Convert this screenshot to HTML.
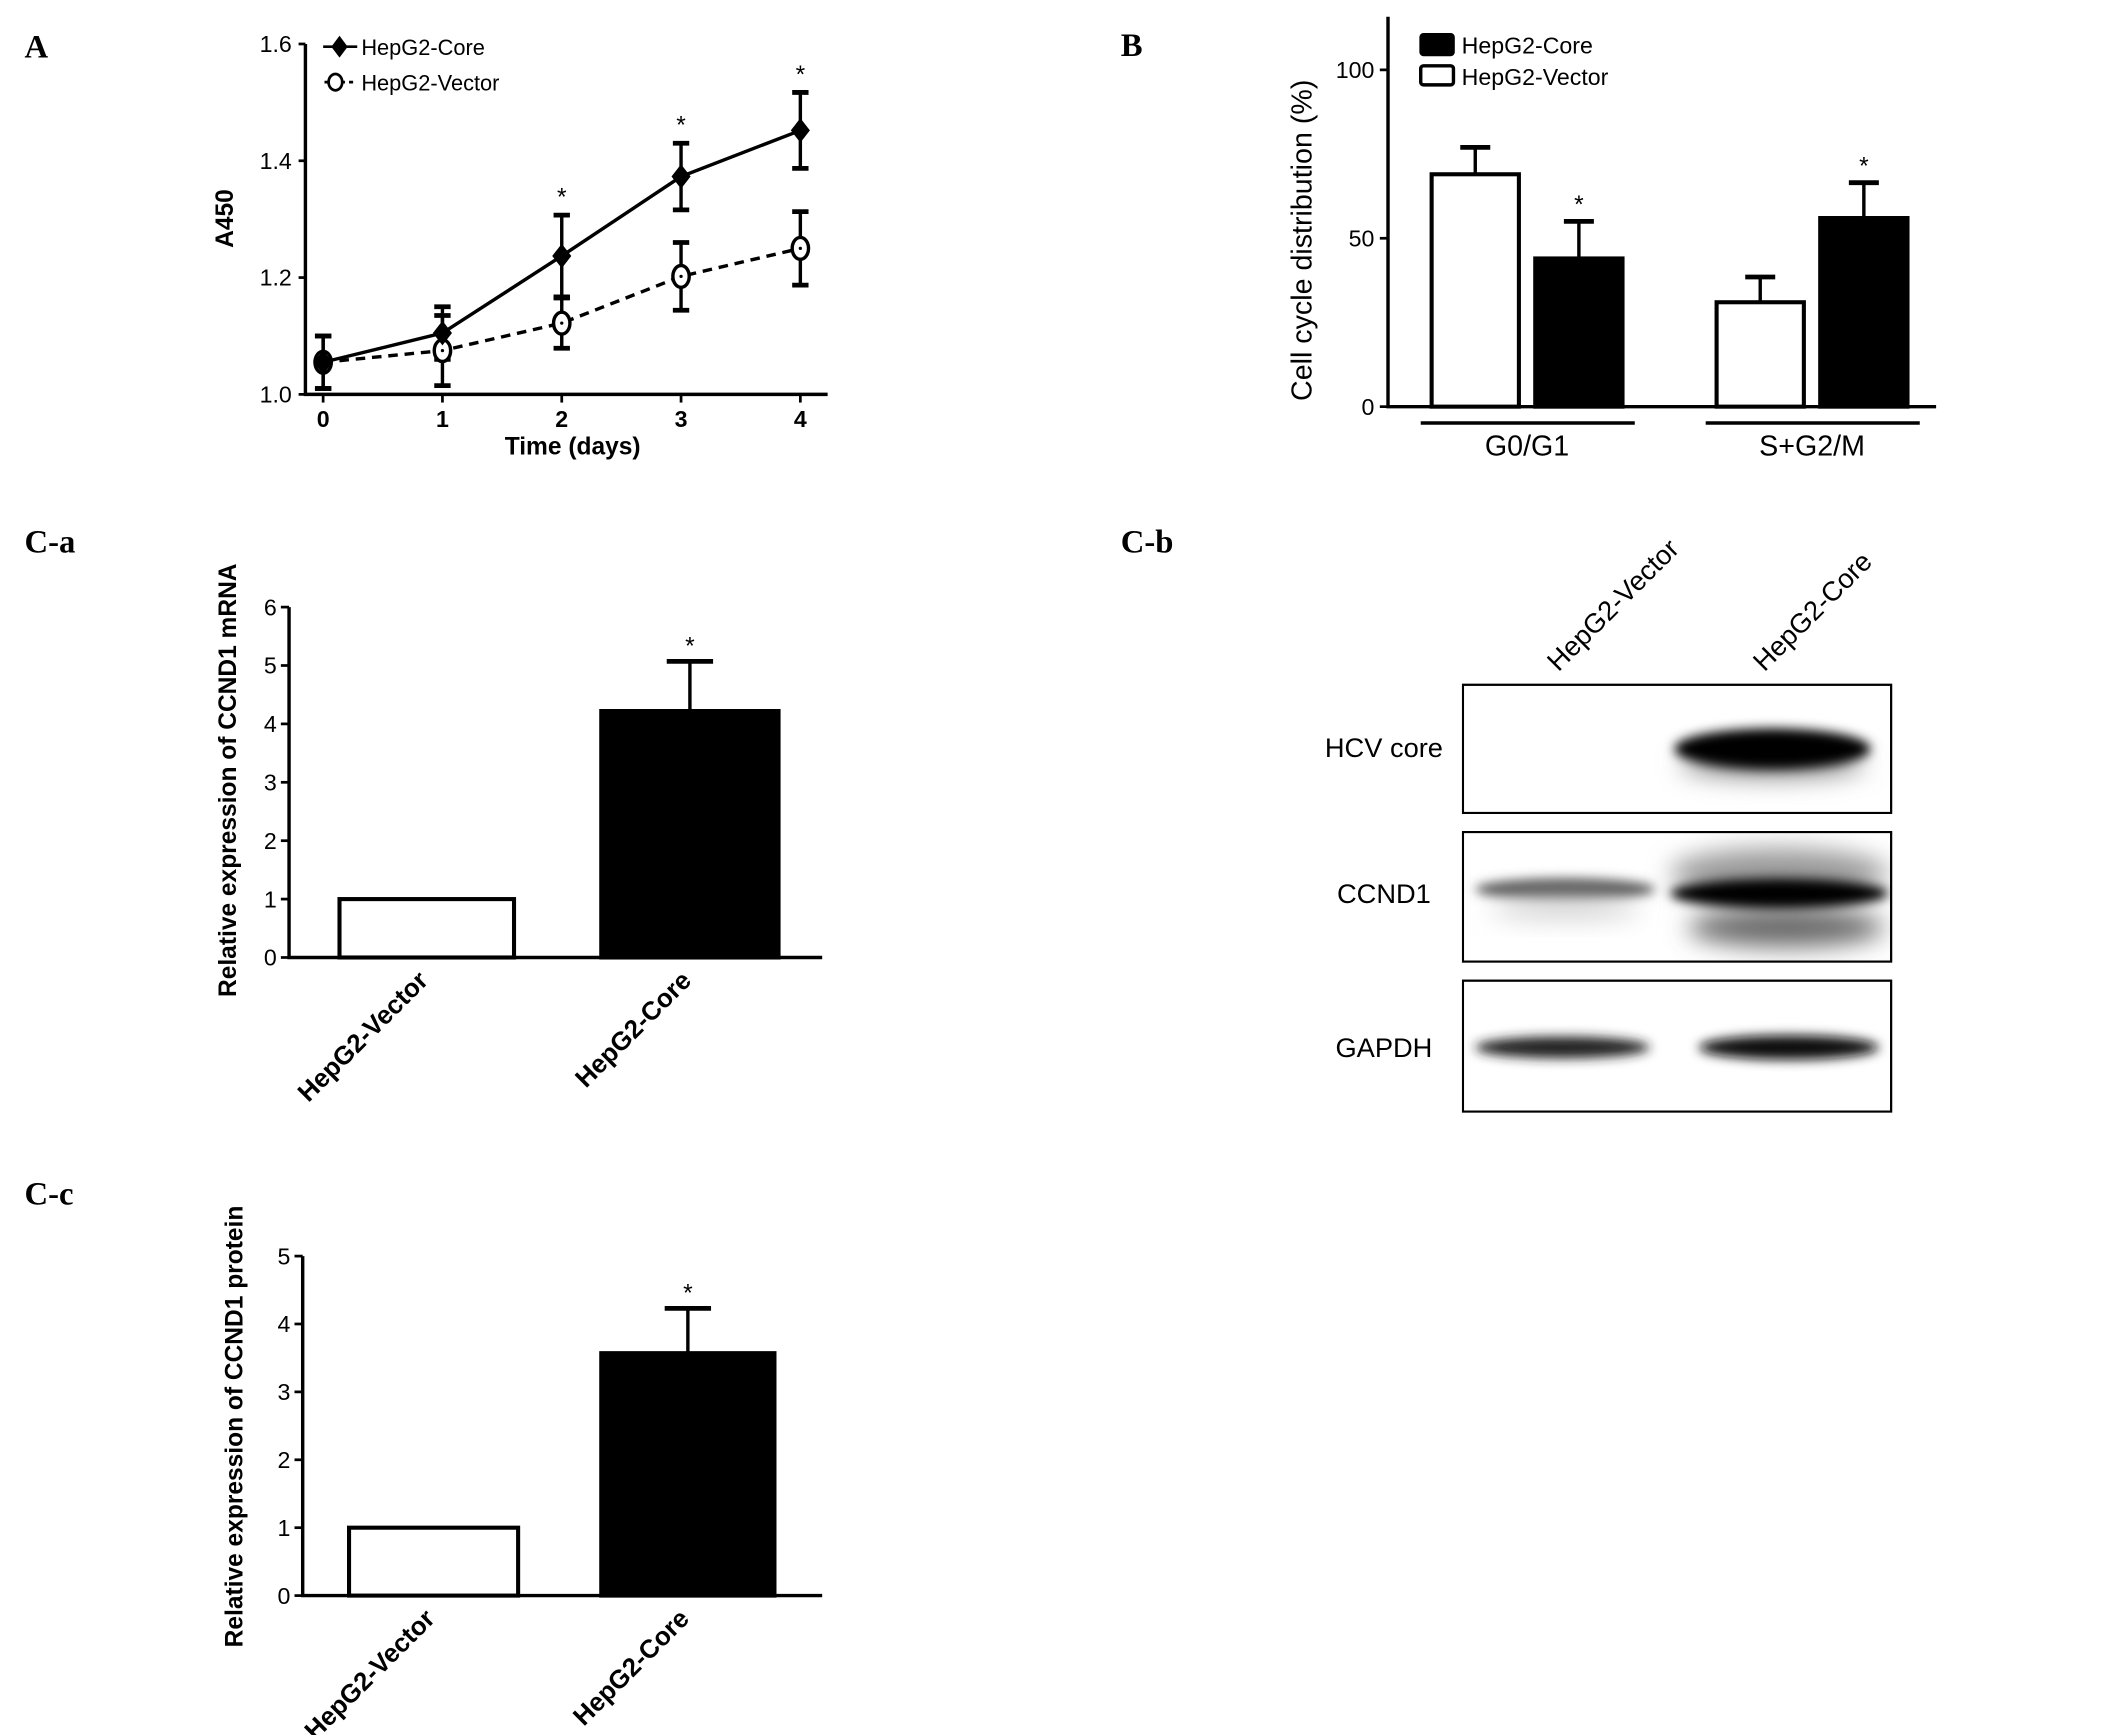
<!DOCTYPE html>
<html><head><meta charset="utf-8"><style>
html,body{margin:0;padding:0;background:#fff;}
svg{display:block;}
text{font-family:"Liberation Sans",sans-serif;fill:#000;}
.lbl{font-family:"Liberation Serif",serif;font-weight:bold;font-size:24px;}
</style></head><body>
<svg id="fig" width="2127" height="1735" viewBox="0 0 1560 1272" xmlns="http://www.w3.org/2000/svg">
<defs>
<filter id="blur4" x="-20%" y="-100%" width="140%" height="300%"><feGaussianBlur stdDeviation="4"/></filter>
<filter id="blur8" x="-20%" y="-100%" width="140%" height="300%"><feGaussianBlur stdDeviation="9"/></filter>
<clipPath id="c1"><rect x="1073" y="502" width="314" height="94"/></clipPath>
<clipPath id="c2"><rect x="1073" y="610" width="314" height="95"/></clipPath>
<clipPath id="c3"><rect x="1073" y="719" width="314" height="96"/></clipPath>
</defs>
<text class="lbl" x="18" y="42">A</text>
<text class="lbl" x="822" y="41">B</text>
<text class="lbl" x="18" y="405">C-a</text>
<text class="lbl" x="822" y="405">C-b</text>
<text class="lbl" x="18" y="883">C-c</text>
<g id="pa"></g><g id="pb"></g><g id="pca"></g><g id="pcb"></g><g id="pcc"></g>
</svg>
<script>
// Panel A data
const days = [0,1,2,3,4];
const coreA = [1.055,1.105,1.237,1.373,1.452];
const coreErr = [0.045,0.045,0.07,0.057,0.065];
const vecA = [1.055,1.075,1.122,1.202,1.25];
const vecErr = [0.045,0.06,0.043,0.058,0.063];
const starA = [false,false,true,true,true];
const ticksA = [1.0,1.2,1.4,1.6];
// Panel B data
const groupsB = ["G0/G1","S+G2/M"];
const vecB = [69,31];
const vecBErr = [8,7.5];
const coreB = [44,56];
const coreBErr = [11,10.5];
const ticksB = [0,50,100];
// Panel C-a data
const catsC = ["HepG2-Vector","HepG2-Core"];
const valsCa = [1,4.22];
const errCa = [0,0.85];
const ticksCa = [0,1,2,3,4,5,6];
// Panel C-c data
const valsCc = [1,3.57];
const errCc = [0,0.66];
const ticksCc = [0,1,2,3,4,5];
// Blot rows
const blotRows = ["HCV core","CCND1","GAPDH"];

const NS="http://www.w3.org/2000/svg";
function mk(tag,attrs,parent,txt){const e=document.createElementNS(NS,tag);for(const k in attrs)e.setAttribute(k,attrs[k]);if(txt!==undefined)e.textContent=txt;parent.appendChild(e);return e;}
function ebar(g,x,y1,y2,w,sw){
 let l=mk('line',{x1:x,x2:x,y1:y1,y2:y2,stroke:'#000','stroke-width':sw},g);
 
 
 let c=mk('line',{x1:x-w,x2:x+w,y1:y1,y2:y1,stroke:'#000','stroke-width':sw+1},g);
 
 
 return c;
}
function ecap2(g,x,y,w,sw){let c=mk('line',{x1:x-w,x2:x+w,y1:y,y2:y,stroke:'#000','stroke-width':sw+1},g);}

// ---------- Panel A ----------
(function(){
 const g=document.getElementById('pa');
 const X=d=>237+d*87.5, Y=v=>289-(v-1)*(257/0.6);
 let ax=mk('path',{d:'M224,32 L224,289 L607,289',fill:'none',stroke:'#000','stroke-width':2.5},g);
 
 ticksA.forEach(t=>{mk('line',{x1:219,x2:224,y1:Y(t),y2:Y(t),stroke:'#000','stroke-width':2},g);
  let tx=mk('text',{x:214,y:Y(t)+6,'text-anchor':'end','font-size':17},g,t.toFixed(1));
  });
 days.forEach(d=>{mk('line',{x1:X(d),x2:X(d),y1:289,y2:295,stroke:'#000','stroke-width':2},g);
  let tx=mk('text',{x:X(d),y:313,'text-anchor':'middle','font-size':17,'font-weight':'bold'},g,String(d));
  });
 let xt=mk('text',{x:420,y:333,'text-anchor':'middle','font-size':18,'font-weight':'bold'},g,'Time (days)');
 
 let yt=mk('text',{transform:'translate(171,160) rotate(-90)','text-anchor':'middle','font-size':18,'font-weight':'bold'},g,'A450');
 
 let pv=mk('polyline',{points:days.map((d,i)=>X(d)+','+Y(vecA[i])).join(' '),fill:'none',stroke:'#000','stroke-width':2.5,'stroke-dasharray':'7,5'},g);
 
 let pc=mk('polyline',{points:days.map((d,i)=>X(d)+','+Y(coreA[i])).join(' '),fill:'none',stroke:'#000','stroke-width':2.5},g);
 
 days.forEach((d,i)=>{
  const x=X(d);
  let l=mk('line',{x1:x,x2:x,y1:Y(coreA[i]+coreErr[i]),y2:Y(coreA[i]-coreErr[i]),stroke:'#000','stroke-width':2.5},g);
  
  ecap2(g,x,Y(coreA[i]+coreErr[i]),6,2.5);ecap2(g,x,Y(coreA[i]-coreErr[i]),6,2.5);
  let l2=mk('line',{x1:x,x2:x,y1:Y(vecA[i]+vecErr[i]),y2:Y(vecA[i]-vecErr[i]),stroke:'#000','stroke-width':2.5},g);
  
  ecap2(g,x,Y(vecA[i]+vecErr[i]),6,2.5);ecap2(g,x,Y(vecA[i]-vecErr[i]),6,2.5);
  const yv=Y(vecA[i]);
  let c=mk('ellipse',{cx:x,cy:yv,rx:6,ry:8,fill:'#fff',stroke:'#000','stroke-width':2.5},g);
  
  mk('circle',{cx:x,cy:yv,r:1.2,fill:'#000'},g);
  const yc=Y(coreA[i]);
  let dm=mk('polygon',{points:`${x},${yc-9} ${x+7},${yc} ${x},${yc+9} ${x-7},${yc}`,fill:'#000'},g);
  
  if(starA[i]){let s=mk('text',{x:x,y:Y(coreA[i]+coreErr[i])-7,'text-anchor':'middle','font-size':18},g,'*');
   }
 });
 mk('line',{x1:237,x2:262,y1:34,y2:34,stroke:'#000','stroke-width':2},g);
 mk('polygon',{points:'249,26 255,34 249,42 243,34',fill:'#000'},g);
 let lt=mk('text',{x:265,y:40,'font-size':16},g,'HepG2-Core');
 
 mk('line',{x1:238,x2:262,y1:60,y2:60,stroke:'#000','stroke-width':2,'stroke-dasharray':'3,3'},g);
 mk('ellipse',{cx:246,cy:60,rx:5,ry:6,fill:'#fff',stroke:'#000','stroke-width':2},g);
 let lv=mk('text',{x:265,y:66,'font-size':16},g,'HepG2-Vector');
 
})();

// ---------- Panel B ----------
(function(){
 const g=document.getElementById('pb');
 const Y=v=>298-v*2.47;
 const gx=[1050,1259], bw=64, gap=12;
 let ax=mk('path',{d:'M1018,12 L1018,298 L1420,298',fill:'none',stroke:'#000','stroke-width':2.5},g);
 
 ticksB.forEach(t=>{mk('line',{x1:1012,x2:1018,y1:Y(t),y2:Y(t),stroke:'#000','stroke-width':2},g);
  let tx=mk('text',{x:1008,y:Y(t)+6,'text-anchor':'end','font-size':17},g,String(t));
  });
 let yt=mk('text',{transform:'translate(962,176) rotate(-90)','text-anchor':'middle','font-size':21},g,'Cell cycle distribution (%)');
 
 groupsB.forEach((name,i)=>{
  const x0=gx[i];
  let b1=mk('rect',{x:x0,y:Y(vecB[i]),width:bw,height:Y(0)-Y(vecB[i]),fill:'#fff',stroke:'#000','stroke-width':3},g);
  
  ebar(g,x0+bw/2,Y(vecB[i]+vecBErr[i]),Y(vecB[i]),11,2.5);
  const x1=x0+bw+gap;
  ebar(g,x1+bw/2,Y(coreB[i]+coreBErr[i]),Y(coreB[i]),11,2.5);
  let b2=mk('rect',{x:x1,y:Y(coreB[i]),width:bw,height:Y(0)-Y(coreB[i]),fill:'#000',stroke:'#000','stroke-width':3},g);
  
  let s=mk('text',{x:x1+bw/2,y:Y(coreB[i]+coreBErr[i])-6,'text-anchor':'middle','font-size':18},g,'*');
  
  mk('line',{x1:x0-8,x2:x1+bw+9,y1:310,y2:310,stroke:'#000','stroke-width':2.5},g);
  let gl=mk('text',{x:x0+(bw*2+gap)/2,y:334,'text-anchor':'middle','font-size':21},g,name);
  
 });
 mk('rect',{x:1042,y:25,width:24,height:15,fill:'#000',stroke:'#000','stroke-width':2,rx:2},g);
 let l1=mk('text',{x:1072,y:39,'font-size':17},g,'HepG2-Core');
 
 mk('rect',{x:1042,y:48,width:24,height:14,fill:'#fff',stroke:'#000','stroke-width':2.5,rx:2},g);
 let l2=mk('text',{x:1072,y:62,'font-size':17},g,'HepG2-Vector');
 
})();

// ---------- simple bar panel ----------
function barPanel(id,axX,yTop,y0,unit,ticks,vals,errs,bx,bw,title,titleX,titleY,labelY){
 const g=document.getElementById(id);
 const Y=v=>y0-v*unit;
 let ax=mk('path',{d:`M${axX},${yTop} L${axX},${y0} L603,${y0}`,fill:'none',stroke:'#000','stroke-width':2.5},g);
 
 ticks.forEach(t=>{mk('line',{x1:axX-6,x2:axX,y1:Y(t),y2:Y(t),stroke:'#000','stroke-width':2},g);
  let tx=mk('text',{x:axX-9,y:Y(t)+6,'text-anchor':'end','font-size':17},g,String(t));
  });
 let yt=mk('text',{transform:`translate(${titleX},${titleY}) rotate(-90)`,'text-anchor':'middle','font-size':18,'font-weight':'bold'},g,title);
 
 catsC.forEach((c,i)=>{
  const fill=i===0?'#fff':'#000';
  if(errs[i]>0) ebar(g,bx[i]+bw[i]/2,Y(vals[i]+errs[i]),Y(vals[i]),17,2.5);
  let b=mk('rect',{x:bx[i],y:Y(vals[i]),width:bw[i],height:Y(0)-Y(vals[i]),fill:fill,stroke:'#000','stroke-width':3},g);
  
  if(errs[i]>0){let s=mk('text',{x:bx[i]+bw[i]/2,y:Y(vals[i]+errs[i])-5,'text-anchor':'middle','font-size':18},g,'*');
   }
  const lx=bx[i]+bw[i]/2+2;
  let tl=mk('text',{transform:`translate(${lx},${labelY}) rotate(-45)`,'text-anchor':'end','font-size':19,'font-weight':'bold'},g,c);
  
 });
}
barPanel('pca',212,445,702,42.83,ticksCa,valsCa,errCa,[249,441],[128,130],'Relative expression of CCND1 mRNA',173,572,720);
barPanel('pcc',222,921,1170,49.8,ticksCc,valsCc,errCc,[256,441],[124,127],'Relative expression of CCND1 protein',178,1046,1188);

// ---------- Panel C-b (western blot) ----------
(function(){
 const g=document.getElementById('pcb');
 const boxes=[[502,94],[610,95],[719,96]];
 const rowY=[548,655,768];
 let c1=mk('text',{transform:'translate(1143,493) rotate(-45)','font-size':20},g,'HepG2-Vector');
 
 let c2=mk('text',{transform:'translate(1294,493) rotate(-45)','font-size':20},g,'HepG2-Core');
 
 const bands=[
  [[1,1300,560,68,10,'#888','blur8','c1'],[1,1300,549,72,15,'#050505','blur4','c1']],
  [[1,1148,652,66,8,'#555','blur4','c2'],[1,1148,666,55,7,'#ccc','blur8','c2'],[1,1305,640,80,18,'#999','blur8','c2'],[1,1310,680,72,14,'#666','blur8','c2'],[1,1305,655,80,11,'#000','blur4','c2']],
  [[1,1146,768,64,8,'#222','blur4','c3'],[1,1312,768,66,9,'#111','blur4','c3']]
 ];
 blotRows.forEach((r,i)=>{
  let b=mk('rect',{x:1073,y:boxes[i][0],width:314,height:boxes[i][1],fill:'#fff',stroke:'#000','stroke-width':1.5},g);
  
  const bg=mk('g',{'clip-path':'url(#'+bands[i][0][7]+')'},g);
  bands[i].forEach(bd=>{let e=mk('ellipse',{cx:bd[1],cy:bd[2],rx:bd[3],ry:bd[4],fill:bd[5],filter:'url(#'+bd[6]+')'},bg);
   });
  mk('rect',{x:1073,y:boxes[i][0],width:314,height:boxes[i][1],fill:'none',stroke:'#000','stroke-width':1.5},g);
  let t=mk('text',{x:1015,y:rowY[i]+7,'text-anchor':'middle','font-size':20},g,r);
  
 });
})();
</script>
</body></html>
